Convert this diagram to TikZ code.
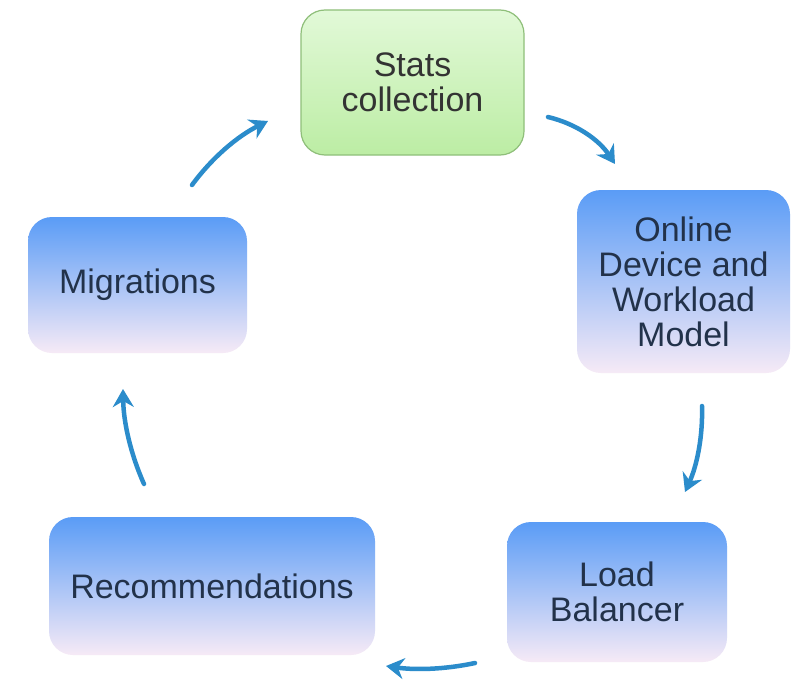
\documentclass[tikz,border=0pt]{standalone}
\usepackage{fontspec}
\setmainfont{Liberation Sans}
\usetikzlibrary{arrows.meta}
\definecolor{flowblue}{HTML}{2B8CCB}
\definecolor{boxtop}{HTML}{5A9CF6}
\definecolor{boxmid}{HTML}{A9C6EE}
\definecolor{boxbot}{HTML}{F6EAF6}
\definecolor{greentop}{HTML}{E2F9D8}
\definecolor{greenbot}{HTML}{BCEDA4}
\definecolor{greenline}{HTML}{8FBF7A}
\definecolor{bluetext}{HTML}{22324A}
\definecolor{graytext}{HTML}{333333}
\tikzset{
  card/.style={rounded corners=24pt, inner sep=0pt, align=center,
    font=\fontsize{34}{35}\selectfont},
  bluecard/.style={card, top color=boxtop, middle color=boxmid,
    bottom color=boxbot, text=bluetext},
  greencard/.style={card, top color=greentop, bottom color=greenbot,
    draw=greenline, line width=1.2pt, text=graytext},
  flow/.style={draw=flowblue, line width=4.5pt, line cap=round,
    -{Stealth[length=18pt,width=21pt,inset=6pt]}}
}
\begin{document}
\begin{tikzpicture}[x=1pt,y=-1pt]
  \useasboundingbox[fill=white] (0,0) rectangle (792,682);

  % stages of the cycle
  \node[greencard, minimum width=223pt, minimum height=145pt] (stats) at (412.5,82.5) {Stats\\collection};
  \node[bluecard, minimum width=213pt, minimum height=183pt] (model) at (683.5,281.5) {Online\\Device and\\Workload\\Model};
  \node[bluecard, minimum width=220pt, minimum height=140pt] (balancer) at (617,592) {Load\\Balancer};
  \node[bluecard, minimum width=326pt, minimum height=138pt] (recs) at (212,586) {Recommendations};
  \node[bluecard, minimum width=219pt, minimum height=136pt] (migr) at (137.5,285) {Migrations};

  % arrow end points between the stages
  \coordinate (s1) at (548,117);   \coordinate (e1) at (615,164);
  \coordinate (s2) at (702,406);   \coordinate (e2) at (685,492);
  \coordinate (s3) at (475,663);   \coordinate (e3) at (386,666);
  \coordinate (s4) at (144,484);   \coordinate (e4) at (123,389);
  \coordinate (s5) at (192,185);   \coordinate (e5) at (268,121);

  % clockwise flow, gently bowed outwards
  \draw[flow] (s1) .. controls (576.5,123.9) and (598.8,139.6) .. (e1);
  \draw[flow] (s2) .. controls (702.9,436) and (697.2,464.7) .. (e2);
  \draw[flow] (s3) .. controls (445.7,669.3) and (416,670.3) .. (e3);
  \draw[flow] (s4) .. controls (130.5,453.8) and (123.5,422.1) .. (e4);
  \draw[flow] (s5) .. controls (212.2,157.5) and (237.5,136.2) .. (e5);
\end{tikzpicture}
\end{document}
